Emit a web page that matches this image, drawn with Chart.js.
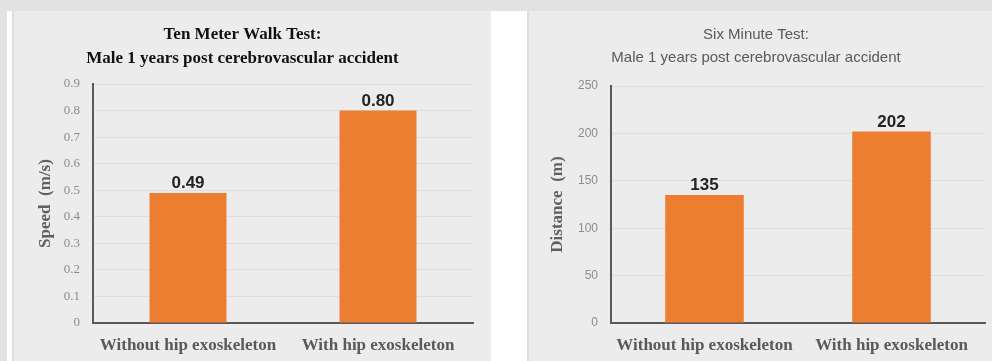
<!DOCTYPE html>
<html>
<head>
<meta charset="utf-8">
<script src="https://cdn.jsdelivr.net/npm/chart.js@4/dist/chart.umd.min.js"></script>
<style>
  html, body { margin: 0; padding: 0; }
  body { width: 992px; height: 361px; background: #e2e2e2; position: relative; overflow: hidden; }
  .sheet { position: absolute; left: 7px; top: 11px; width: 985px; height: 350px; background: #ffffff; }
  .panel { position: absolute; top: 11px; height: 350px; background: #ececec; box-shadow: inset 2px 0 0 #dddddd; }
  .panel canvas { position: absolute; left: 0; top: 0; }
  #p1 { left: 12px; width: 479px; }
  #p2 { left: 527px; width: 465px; }
</style>
</head>
<body>
<div class="sheet"></div>
<div class="panel" id="p1"><canvas id="walk" width="479" height="350"></canvas></div>
<div class="panel" id="p2"><canvas id="six" width="465" height="350"></canvas></div>
<script>
// Shared categories
const conditions = ['Without hip exoskeleton', 'With hip exoskeleton'];

// Ten meter walk test: speed in m/s
const speedValues = [0.49, 0.80];
const speedTicks = [0, 0.1, 0.2, 0.3, 0.4, 0.5, 0.6, 0.7, 0.8, 0.9];

// Six minute test: distance in m
const distanceValues = [135, 202];
const distanceTicks = [0, 50, 100, 150, 200, 250];

const BAR_COLOR = '#ED7D31';
const AXIS_COLOR = '#595959';
const GRID_COLOR = '#dedede';

// Value labels above each bar
const barValueLabels = {
  id: 'barValueLabels',
  afterDatasetsDraw(chart, args, opts) {
    const ctx = chart.ctx;
    const ds = chart.data.datasets[0];
    const meta = chart.getDatasetMeta(0);
    ctx.save();
    ctx.font = 'bold 17px "Liberation Sans", Arial, sans-serif';
    ctx.fillStyle = '#222222';
    ctx.textAlign = 'center';
    ctx.textBaseline = 'alphabetic';
    meta.data.forEach((bar, i) => {
      ctx.fillText(opts.format(ds.data[i]), bar.x, bar.y - 5);
    });
    ctx.restore();
  }
};

function makeChart(canvasId, cfg) {
  return new Chart(document.getElementById(canvasId), {
    type: 'bar',
    data: {
      labels: conditions,
      datasets: [{
        data: cfg.values,
        backgroundColor: BAR_COLOR,
        borderWidth: 0,
        categoryPercentage: 1,
        barPercentage: cfg.barPct
      }]
    },
    options: {
      responsive: false,
      animation: false,
      devicePixelRatio: 1,
      layout: { padding: { left: 0, right: cfg.rightPad, top: 0, bottom: 0 } },
      plugins: {
        legend: { display: false },
        tooltip: { enabled: false },
        title: {
          display: true,
          text: cfg.title,
          color: cfg.titleColor,
          font: cfg.titleFont,
          padding: cfg.titlePad
        },
        barValueLabels: { format: cfg.format }
      },
      scales: {
        x: {
          grid: { display: false, drawTicks: false },
          border: { display: true, color: AXIS_COLOR, width: 2 },
          ticks: {
            color: '#595959',
            padding: 12,
            maxRotation: 0,
            autoSkip: false,
            font: { family: '"Liberation Serif", "Times New Roman", serif', size: 17, weight: 'bold' }
          },
          afterFit(scale) { scale.height = 38; }
        },
        y: {
          min: cfg.ticks[0],
          max: cfg.ticks[cfg.ticks.length - 1],
          afterBuildTicks(scale) { scale.ticks = cfg.ticks.map(v => ({ value: v })); },
          grid: { color: GRID_COLOR, lineWidth: 1, drawTicks: false },
          border: { display: true, color: AXIS_COLOR, width: 2 },
          ticks: {
            color: '#8c8c8c',
            padding: 13,
            font: cfg.tickFont,
            callback: v => String(v)
          },
          title: {
            display: true,
            text: cfg.yTitle,
            color: '#5f5f5f',
            font: { family: '"Liberation Serif", "Times New Roman", serif', size: 17, weight: 'bold' },
            padding: { top: cfg.yTitlePad, bottom: 0 }
          },
          afterFit(scale) { scale.width = cfg.yWidth; }
        }
      }
    },
    plugins: [barValueLabels]
  });
}

makeChart('walk', {
  values: speedValues,
  ticks: speedTicks,
  barPct: 0.405,
  rightPad: 18,
  yWidth: 81,
  yTitlePad: 23,
  yTitle: 'Speed  (m/s)',
  title: ['Ten Meter Walk Test:', 'Male 1 years post cerebrovascular accident'],
  titleColor: '#111111',
  titleFont: { family: '"Liberation Serif", "Times New Roman", serif', size: 17, weight: 'bold', lineHeight: '24px' },
  titlePad: { top: 12, bottom: 13 },
  tickFont: { family: '"Liberation Serif", "Times New Roman", serif', size: 13 },
  format: v => v.toFixed(2)
});

makeChart('six', {
  values: distanceValues,
  ticks: distanceTicks,
  barPct: 0.42,
  rightPad: 7,
  yWidth: 84,
  yTitlePad: 20,
  yTitle: 'Distance  (m)',
  title: ['Six Minute Test:', 'Male 1 years post cerebrovascular accident'],
  titleColor: '#595959',
  titleFont: { family: '"Liberation Sans", Arial, sans-serif', size: 15, weight: 'normal', lineHeight: '23px' },
  titlePad: { top: 12.5, bottom: 16.5 },
  tickFont: { family: '"Liberation Sans", Arial, sans-serif', size: 12 },
  format: v => v.toFixed(0)
});
</script>
</body>
</html>
